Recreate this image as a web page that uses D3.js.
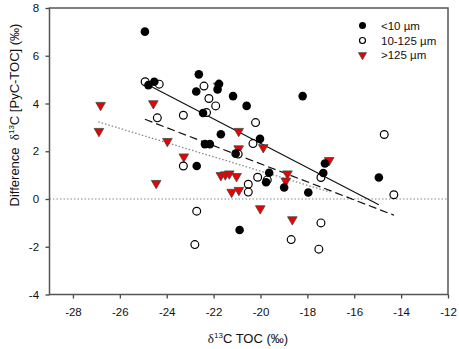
<!DOCTYPE html>
<html><head><meta charset="utf-8">
<script src="https://cdn.jsdelivr.net/npm/d3@7"></script>
<style>body{margin:0;background:#fff}svg{display:block}</style>
</head><body>
<svg id="c" width="459" height="349"></svg>
<script>
// ---- data (δ13C TOC, difference δ13C PyC-TOC) ----
const fine = [ // <10 µm
 [-24.93,7.01],[-24.53,4.91],[-24.78,4.77],[-22.63,5.22],[-22.74,4.50],[-21.77,4.82],[-21.83,4.59],
 [-21.17,4.31],[-20.59,3.90],[-18.20,4.31],[-22.45,3.60],[-21.69,2.71],[-20.02,2.52],[-22.37,2.30],
 [-22.16,2.30],[-21.06,1.90],[-22.72,1.38],[-19.63,1.10],[-19.76,0.70],[-18.99,0.48],[-17.25,1.49],
 [-17.32,1.09],[-14.95,0.90],[-17.96,0.27],[-20.89,-1.30]
];
const medium = [ // 10-125 µm
 [-24.92,4.91],[-24.32,4.81],[-22.41,4.73],[-22.20,4.21],[-21.91,3.90],[-22.30,3.62],[-20.21,3.20],
 [-24.40,3.40],[-23.29,3.51],[-20.32,2.32],[-20.95,1.88],[-23.29,1.38],[-20.12,0.91],[-19.71,0.80],
 [-20.52,0.62],[-20.52,0.29],[-17.42,0.90],[-14.72,2.70],[-14.31,0.18],[-22.72,-0.51],[-22.80,-1.91],
 [-17.42,-1.00],[-18.69,-1.70],[-17.51,-2.10]
];
const coarse = [ // >125 µm
 [-26.82,3.93],[-26.89,2.84],[-24.57,4.00],[-23.97,2.42],[-23.27,1.77],[-24.45,0.66],[-21.80,4.74],
 [-20.93,2.84],[-19.88,2.16],[-20.93,2.11],[-21.69,0.99],[-21.50,1.02],[-21.33,1.06],[-21.02,0.95],
 [-21.23,0.29],[-20.92,0.37],[-18.85,1.06],[-18.92,0.76],[-17.07,1.62],[-20.01,-0.40],[-18.64,-0.86]
];
// regression fits: [x, y] end points in data units
const fitFine = [[-24.93,4.85],[-14.95,-0.24]];
const fitMedium = [[-24.93,3.34],[-14.30,-0.68]];
const fitCoarse = [[-26.92,3.23],[-17.04,0.29]];
const legendLabels = ["<10 µm","10-125 µm",">125 µm"];
const xTicks = [-28,-26,-24,-22,-20,-18,-16,-14,-12];
const yTicks = [-4,-2,0,2,4,6,8];

const svg = d3.select("#c");
const x = d3.scaleLinear().domain([-29,-12]).range([49.5,448]);
const y = d3.scaleLinear().domain([-4,8]).range([294.5,8]);
const font = "Arial, 'Liberation Sans', sans-serif";

// zero reference line
svg.append("line").attr("x1",x(-29)).attr("x2",x(-12)).attr("y1",y(0)).attr("y2",y(0))
  .attr("stroke","#888").attr("stroke-width",1.2).attr("stroke-dasharray","1.5,2");

// axes
const gx = svg.append("g").attr("transform",`translate(0,${y(-4)})`)
  .call(d3.axisBottom(x).tickValues(xTicks).tickSize(4).tickSizeOuter(0).tickFormat(d=>String(d)));
const gy = svg.append("g").attr("transform",`translate(${x(-29)},0)`)
  .call(d3.axisLeft(y).tickValues(yTicks).tickSize(4).tickSizeOuter(0).tickFormat(d=>String(d)));
[gx,gy].forEach(g=>{
  g.select(".domain").remove();
  g.selectAll(".tick line").attr("stroke","#444").attr("stroke-width",1.3);
  g.selectAll(".tick text").attr("font-family",font).attr("font-size",11.5).attr("fill","#111");
});
gx.selectAll(".tick text").attr("dy","1.25em");
gy.selectAll(".tick text").attr("dx","-0.3em");

// frame
svg.append("rect").attr("x",x(-29)).attr("y",y(8)).attr("width",x(-12)-x(-29)).attr("height",y(-4)-y(8))
  .attr("fill","none").attr("stroke","#555").attr("stroke-width",1.5);

// regression lines
const line = d3.line().x(d=>x(d[0])).y(d=>y(d[1]));
svg.append("path").datum(fitCoarse).attr("d",line).attr("fill","none").attr("stroke","#888")
  .attr("stroke-width",1.3).attr("stroke-dasharray","1.5,2");
svg.append("path").datum(fitMedium).attr("d",line).attr("fill","none").attr("stroke","#111")
  .attr("stroke-width",1.2).attr("stroke-dasharray","8,4");
svg.append("path").datum(fitFine).attr("d",line).attr("fill","none").attr("stroke","#111")
  .attr("stroke-width",1.2);

// points
const tri = d3.symbol().type(d3.symbolTriangle).size(40);
svg.append("g").selectAll("path").data(coarse).join("path").attr("d",tri)
  .attr("transform",d=>`translate(${x(d[0])},${y(d[1])}) rotate(180)`)
  .attr("fill","#ee0000").attr("stroke","#3a4a4a").attr("stroke-width",0.8);
svg.append("g").selectAll("circle").data(medium).join("circle")
  .attr("cx",d=>x(d[0])).attr("cy",d=>y(d[1])).attr("r",3.9)
  .attr("fill","#fff").attr("stroke","#000").attr("stroke-width",1.2);
svg.append("g").selectAll("circle").data(fine).join("circle")
  .attr("cx",d=>x(d[0])).attr("cy",d=>y(d[1])).attr("r",4.3).attr("fill","#000");

// legend
const lg = svg.append("g").attr("font-family",font).attr("font-size",11.5).attr("fill","#111");
const ly = [25.5,40.5,55];
lg.append("circle").attr("cx",362.5).attr("cy",ly[0]).attr("r",3.5).attr("fill","#000");
lg.append("circle").attr("cx",362.5).attr("cy",ly[1]).attr("r",3).attr("fill","#fff").attr("stroke","#000").attr("stroke-width",1.2);
lg.append("path").attr("d",d3.symbol().type(d3.symbolTriangle).size(28))
  .attr("transform",`translate(362.5,${ly[2]}) rotate(180)`).attr("fill","#ee0000").attr("stroke","#3a4a4a").attr("stroke-width",0.8);
legendLabels.forEach((t,i)=>lg.append("text").attr("x",381).attr("y",ly[i]).attr("dy","0.35em").text(t));

// axis titles
const xt = svg.append("text").attr("x",248).attr("y",343).attr("text-anchor","middle")
  .attr("font-family",font).attr("font-size",13).attr("fill","#111");
xt.append("tspan").attr("font-family","'Liberation Serif', 'Times New Roman', serif").text("δ");
xt.append("tspan").attr("font-size",8).attr("dy",-5).text("13");
xt.append("tspan").attr("dy",5).text("C TOC (‰)");

const yt = svg.append("text").attr("transform","translate(19,115) rotate(-90)").attr("text-anchor","middle")
  .attr("font-family",font).attr("font-size",13).attr("fill","#111");
yt.append("tspan").text("Difference\u00a0\u00a0");
yt.append("tspan").attr("font-family","'Liberation Serif', 'Times New Roman', serif").text("δ");
yt.append("tspan").attr("font-size",8).attr("dy",-5).text("13");
yt.append("tspan").attr("dy",5).text("C [PyC-TOC] (‰)");
</script>
</body></html>
